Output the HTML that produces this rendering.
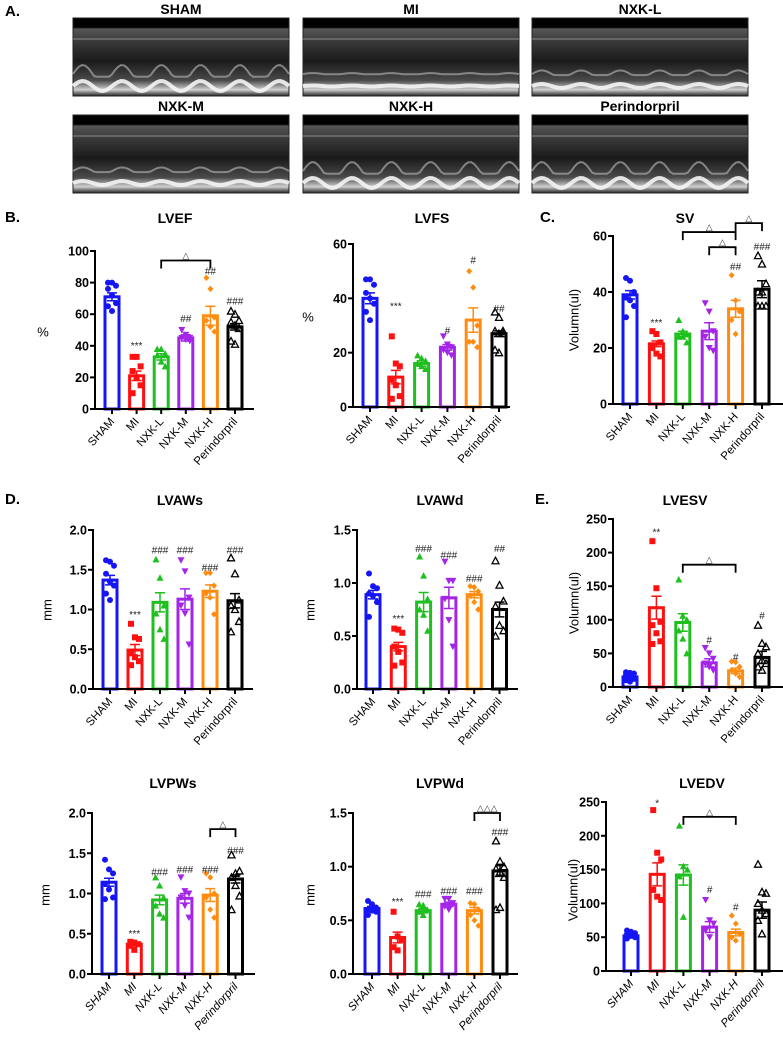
<!DOCTYPE html>
<html><head><meta charset="utf-8"><style>
html,body{margin:0;padding:0;background:#fff;}
svg{display:block;font-family:"Liberation Sans",Arial,sans-serif;}
</style></head><body>
<svg id="fig" width="783" height="1039" viewBox="0 0 783 1039" xmlns="http://www.w3.org/2000/svg">
<defs>
<linearGradient id="echoG" x1="0" y1="0" x2="0" y2="1">
<stop offset="0" stop-color="#000"/><stop offset="0.12" stop-color="#000"/><stop offset="0.14" stop-color="#555"/><stop offset="0.3" stop-color="#3a3a3a"/><stop offset="0.55" stop-color="#1a1a1a"/><stop offset="0.8" stop-color="#4a4a4a"/><stop offset="0.92" stop-color="#cfcfcf"/><stop offset="1" stop-color="#222"/>
</linearGradient>
</defs>
<g id="panelA"></g>
<g id="charts"></g>
</svg>
<script>
// ===== Data arrays =====
const categories = ["SHAM","MI","NXK-L","NXK-M","NXK-H","Perindorpril"];
const colors = ["#1515f5","#ff1010","#1fbf1f","#a424e8","#ff8c10","#000000"];

const lvefMeans = [71,21,33,45,59,52];
const lvefSem = [2.5,3,2,2,6,2];
const lvefPoints = [[80,80,78,76,72,67,65,62],[33,33,27,24,20,15,10],[38,38,35,34,30,27],[50,47,45,45,44,43],[83,76,58,56,52,49],[62,60,56,55,53,51,43,41]];
const lvefAnnot = ["","***","","##","##","###"];
const lvefAnnotY = [0,40,0,57,87,68];
const lvefTicks = [0,20,40,60,80,100];

const lvfsMeans = [40,11,16,22,32,27];
const lvfsSem = [2,2.5,1,1,4.5,1];
const lvfsPoints = [[47,47,45,42,40,38,35,32],[26,16,15,10,8,4,3],[19,18,17,16,15,14],[26,23,22,21,20,19],[50,44,30,24,24,22],[35,33,28,28,27,27,21,20]];
const lvfsAnnot = ["","***","","#","#","##"];
const lvfsAnnotY = [0,37,0,28,54,36];
const lvfsTicks = [0,20,40,60];

const svMeans = [39,21.5,25,26,34,41];
const svSem = [1.5,1,1,3,3,3];
const svPoints = [[45,44,40,38,37,35,31],[26,25,22,20,18,17],[30,26,25,24,24,22],[36,33,26,24,20,19],[46,37,33,30,25],[53,50,43,40,40,35,35,35]];
const svAnnot = ["","***","","","##","###"];
const svAnnotY = [0,29,0,0,49,56];
const svTicks = [0,20,40,60];

const lvawsMeans = [1.37,0.49,1.09,1.13,1.23,1.11];
const lvawsSem = [0.06,0.07,0.12,0.13,0.08,0.09];
const lvawsPoints = [[1.62,1.6,1.55,1.45,1.35,1.3,1.2,1.12],[0.82,0.65,0.63,0.45,0.4,0.35,0.3],[1.63,1.4,1.05,0.95,0.75,0.63],[1.62,1.48,1.15,1.05,0.95,0.56],[1.46,1.46,1.3,1.2,1.15,0.94],[1.65,1.45,1.12,1.05,1.0,0.85,0.72]];
const lvawsAnnot = ["","***","###","###","###","###"];
const lvawsAnnotY = [0,0.93,1.74,1.74,1.52,1.74];
const mm2Ticks = [0,0.5,1.0,1.5,2.0];

const lvawdMeans = [0.89,0.40,0.82,0.86,0.89,0.75];
const lvawdSem = [0.04,0.04,0.09,0.1,0.03,0.07];
const lvawdPoints = [[1.09,0.97,0.95,0.9,0.88,0.82,0.68],[0.57,0.56,0.53,0.4,0.35,0.25,0.22],[1.25,1.07,0.85,0.75,0.7,0.55],[1.2,1.02,1.02,0.85,0.65,0.4],[0.97,0.96,0.92,0.88,0.82,0.75],[1.21,0.98,0.83,0.78,0.6,0.55,0.5]];
const lvawdAnnot = ["","***","###","###","###","##"];
const lvawdAnnotY = [0,0.66,1.32,1.26,1.04,1.32];
const mm15Ticks = [0,0.5,1.0,1.5];

const lvesvMeans = [15,118,96,36,24,44];
const lvesvSem = [2,17,13,6,4,9];
const lvesvPoints = [[22,21,20,18,15,12,10,8],[217,147,97,92,80,68,64],[160,106,100,84,72,50],[58,50,42,35,30,25],[38,37,30,25,20,15],[92,65,60,50,40,35,30,25]];
const lvesvAnnot = ["","**","","#","#","#"];
const lvesvAnnotY = [0,230,0,69,44,106];
const volTicks = [0,50,100,150,200,250];

const lvpwsMeans = [1.14,0.37,0.92,0.94,0.98,1.18];
const lvpwsSem = [0.05,0.02,0.06,0.06,0.08,0.05];
const lvpwsPoints = [[1.42,1.3,1.25,1.12,1.05,0.95,0.93],[0.4,0.39,0.37,0.35,0.3],[1.2,1.1,0.95,0.85,0.75,0.7],[1.2,1.03,1.0,0.95,0.85,0.7],[1.25,1.2,1.0,0.95,0.8,0.7],[1.48,1.25,1.28,1.2,1.1,0.97,0.8]];
const lvpwsAnnot = ["","***","###","###","###","###"];
const lvpwsAnnotY = [0,0.5,1.26,1.29,1.29,1.53];

const lvpwdMeans = [0.61,0.34,0.59,0.65,0.59,0.96];
const lvpwdSem = [0.02,0.05,0.02,0.02,0.03,0.05];
const lvpwdPoints = [[0.68,0.65,0.62,0.6,0.59,0.58,0.55],[0.58,0.35,0.32,0.25,0.22],[0.65,0.64,0.6,0.58,0.55],[0.7,0.7,0.66,0.63,0.6],[0.66,0.65,0.6,0.55,0.5,0.45],[1.24,1.05,1.0,0.98,0.95,0.9,0.6,0.62]];
const lvpwdAnnot = ["","***","###","###","###","###"];
const lvpwdAnnotY = [0,0.67,0.74,0.77,0.77,1.32];

const lvedvMeans = [52,143,142,65,57,90];
const lvedvSem = [3,17,15,8,5,12];
const lvedvPoints = [[60,58,56,55,52,50,48],[238,175,165,120,110,105],[215,155,150,140,80],[105,75,70,60,50],[82,70,55,50,45],[158,117,115,100,90,85,75,55]];
const lvedvAnnot = ["","*","","#","#",""];
const lvedvAnnotY = [0,248,0,120,94,0];

// brackets: [fromIndex, toIndex, levelValue, label]
const lvefBrackets = [[2,4,94,"△"]];
const svBrackets = [[2,4,61.4,"△"],[3,4,56,"△"],[4,5,64.6,"△"]];
const lvesvBrackets = [[2,4,182,"△"]];
const lvpwsBrackets = [[4,5,1.8,"△"]];
const lvpwdBrackets = [[4,5,1.5,"△△△"]];
const lvedvBrackets = [[2,4,228,"△"]];

// ===== Rendering =====
const NS = "http://www.w3.org/2000/svg";
function mk(tag, attrs, parent){
  const e = document.createElementNS(NS, tag);
  for (const k in attrs) e.setAttribute(k, attrs[k]);
  parent.appendChild(e);
  return e;
}

// Panel A echo images
const panelA = document.getElementById('panelA');
const echoTitles = ["SHAM","MI","NXK-L","NXK-M","NXK-H","Perindorpril"];
const echoX = [73,303,532];
const echoY = [18,115];
echoTitles.forEach((t,i)=>{
  const x = echoX[i%3], y = echoY[Math.floor(i/3)], w = 216, h = 78;
  const g = mk('g',{},panelA);
  
  
  mk('rect',{x:x,y:y,width:w,height:h,fill:'url(#echoG)',stroke:'#222','stroke-width':1},g);
  // wall motion waves
  const amp = (t==="MI")?0.5:(t==="NXK-L"||t==="NXK-M")?2:5;
  let d1="", d2="";
  for(let k=0;k<=w;k+=3){
    const ph = Math.sin(k/w*2*Math.PI*5.5);
    d1 += (k?"L":"M")+(x+k)+","+(y+h-10-amp*ph);
    d2 += (k?"L":"M")+(x+k)+","+(y+h-22-amp*1.8*Math.max(ph,-0.3));
  }
  const p1 = mk('path',{d:d1,stroke:'#f4f4f4','stroke-width':4,fill:'none',opacity:0.9},g);
  const p2 = mk('path',{d:d2,stroke:'#9a9a9a','stroke-width':2,fill:'none',opacity:0.8},g);
  mk('line',{x1:x,y1:y+h*0.27,x2:x+w,y2:y+h*0.27,stroke:'#888','stroke-width':1.5,opacity:0.7},g);
  const tt = mk('text',{x:x+w/2,y:y-4,'text-anchor':'middle','font-size':14,'font-weight':'bold'},panelA);
  tt.textContent = t;
  
  
});

const chartsG = document.getElementById('charts');
// panel letters
[["A.",5,16],["B.",5,222],["C.",540,222],["D.",5,504],["E.",535,504]].forEach(p=>{
  const t = mk('text',{x:p[1],y:p[2],'font-size':15,'font-weight':'bold'},chartsG);
  t.textContent = p[0];
  
  
});

function marker(g, shape, cx, cy, col){
  let e;
  if(shape==='circle') e = mk('circle',{cx:cx,cy:cy,r:3,fill:col},g);
  else if(shape==='square') e = mk('rect',{x:cx-3,y:cy-3,width:6,height:6,fill:col},g);
  else if(shape==='up') e = mk('polygon',{points:`${cx},${cy-3.5} ${cx+3.5},${cy+3} ${cx-3.5},${cy+3}`,fill:col},g);
  else if(shape==='down') e = mk('polygon',{points:`${cx},${cy+3.5} ${cx+3.5},${cy-3} ${cx-3.5},${cy-3}`,fill:col},g);
  else if(shape==='diamond') e = mk('polygon',{points:`${cx},${cy-3.2} ${cx+3},${cy} ${cx},${cy+3.2} ${cx-3},${cy}`,fill:col},g);
  else e = mk('polygon',{points:`${cx},${cy-3.5} ${cx+3.5},${cy+3} ${cx-3.5},${cy+3}`,fill:'none',stroke:col,'stroke-width':1.3},g);
  
  
}
const shapes = ['circle','square','up','down','diamond','open'];

function drawChart(c){
  const g = mk('g',{},chartsG);
  
  
  const yMax = c.ticks[c.ticks.length-1];
  const ys = v => c.y0 - (v/yMax)*(c.y0 - c.yTop);
  const xs = i => c.cx0 + i*c.step;
  // title
  const ti = mk('text',{x:c.tx,y:c.ty+5,'text-anchor':'middle','font-size':14,'font-weight':'bold'},g);
  ti.textContent = c.title;
  
  
  // y label
  const yl = mk('text',{x:c.lx,y:c.ly,'text-anchor':'middle','font-size':13},g);
  if(c.rot) yl.setAttribute('transform',`rotate(-90 ${c.lx} ${c.ly})`);
  yl.setAttribute('dominant-baseline','middle');
  yl.textContent = c.ylabel;
  
  
  // bars
  c.means.forEach((m,i)=>{
    const col = colors[i], cx = xs(i), bw = 14;
    const b = mk('rect',{x:cx-bw/2,y:ys(m),width:bw,height:c.y0-ys(m),fill:'#fff',stroke:col,'stroke-width':3},g);
    
    
    const hi = ys(m + c.sem[i]), lo = ys(m - c.sem[i]);
    const eb = mk('path',{d:`M${cx},${hi}L${cx},${lo}M${cx-5},${hi}L${cx+5},${hi}M${cx-5},${lo}L${cx+5},${lo}`,stroke:col,'stroke-width':1.5,fill:'none'},g);
    
    
    const pts = c.points[i], n = pts.length;
    pts.forEach((v,k)=>{
      const off = ((k%3)-1)*4;
      marker(g, shapes[i], cx+off, ys(v), col);
    });
    if(c.annot[i]){
      const a = mk('text',{x:cx,y:ys(c.annotY[i])+3,'text-anchor':'middle','font-size':10,fill:'#222'},g);
      a.textContent = c.annot[i];
      
      
    }
  });
  // axes
  const ax = mk('path',{d:`M${c.ax},${c.yTop-1}L${c.ax},${c.y0}L${c.xEnd},${c.y0}`,stroke:'#000','stroke-width':2,fill:'none'},g);
  
  
  c.ticks.forEach(t=>{
    mk('line',{x1:c.ax-5,y1:ys(t),x2:c.ax,y2:ys(t),stroke:'#000','stroke-width':2},g);
    const tl = mk('text',{x:c.ax-6,y:ys(t)+4.5,'text-anchor':'end','font-size':12.5,'font-weight':'bold'},g);
    tl.textContent = c.fixed ? t.toFixed(1) : String(t);
    
    
  });
  categories.forEach((cat,i)=>{
    const cx = xs(i);
    mk('line',{x1:cx,y1:c.y0,x2:cx,y2:c.y0+5,stroke:'#000','stroke-width':2},g);
    const tl = mk('text',{x:cx+3,y:c.y0+13,'text-anchor':'end','font-size':11.5,transform:`rotate(-48 ${cx+3} ${c.y0+13})`},g);
    if(c.italic) tl.setAttribute('font-style','italic');
    tl.textContent = cat;
    
    
  });
  // brackets
  c.brackets.forEach(br=>{
    const x1 = xs(br[0]), x2 = xs(br[1]), yy = ys(br[2]);
    const p = mk('path',{d:`M${x1},${yy+8}L${x1},${yy}L${x2},${yy}L${x2},${yy+8}`,stroke:'#000','stroke-width':1.8,fill:'none'},g);
    
    
    const t = mk('text',{x:(x1+x2)/2,y:yy-2,'text-anchor':'middle','font-size':9,fill:'#333'},g);
    t.textContent = br[3];
    
    
  });
}

const charts = [
 {id:'lvef',title:'LVEF',means:lvefMeans,sem:lvefSem,points:lvefPoints,annot:lvefAnnot,annotY:lvefAnnotY,ticks:lvefTicks,brackets:lvefBrackets,
  ax:95,y0:409,yTop:251,cx0:112,step:24.6,xEnd:254,tx:175,ty:218,lx:43,ly:333,ylabel:'%',rot:false},
 {id:'lvfs',title:'LVFS',means:lvfsMeans,sem:lvfsSem,points:lvfsPoints,annot:lvfsAnnot,annotY:lvfsAnnotY,ticks:lvfsTicks,brackets:[],
  ax:353,y0:407,yTop:244,cx0:370,step:25.8,xEnd:510,tx:432,ty:218,lx:308,ly:318,ylabel:'%',rot:false},
 {id:'sv',title:'SV',means:svMeans,sem:svSem,points:svPoints,annot:svAnnot,annotY:svAnnotY,ticks:svTicks,brackets:svBrackets,
  ax:613,y0:404,yTop:236,cx0:630,step:26.4,xEnd:783,tx:685,ty:218,lx:575,ly:320,ylabel:'Volumn(ul)',rot:true},
 {id:'lvaws',title:'LVAWs',means:lvawsMeans,sem:lvawsSem,points:lvawsPoints,annot:lvawsAnnot,annotY:lvawsAnnotY,ticks:mm2Ticks,brackets:[],fixed:true,
  ax:93,y0:689,yTop:530,cx0:110,step:25,xEnd:253,tx:180,ty:500,lx:48,ly:610,ylabel:'mm',rot:true},
 {id:'lvawd',title:'LVAWd',means:lvawdMeans,sem:lvawdSem,points:lvawdPoints,annot:lvawdAnnot,annotY:lvawdAnnotY,ticks:mm15Ticks,brackets:[],fixed:true,
  ax:357,y0:689,yTop:530,cx0:373,step:25.3,xEnd:518,tx:440,ty:500,lx:311,ly:610,ylabel:'mm',rot:true},
 {id:'lvesv',title:'LVESV',means:lvesvMeans,sem:lvesvSem,points:lvesvPoints,annot:lvesvAnnot,annotY:lvesvAnnotY,ticks:volTicks,brackets:lvesvBrackets,
  ax:613,y0:687,yTop:519,cx0:630,step:26.4,xEnd:783,tx:685,ty:500,lx:575,ly:603,ylabel:'Volumn(ul)',rot:true},
 {id:'lvpws',title:'LVPWs',means:lvpwsMeans,sem:lvpwsSem,points:lvpwsPoints,annot:lvpwsAnnot,annotY:lvpwsAnnotY,ticks:mm2Ticks,brackets:lvpwsBrackets,fixed:true,italic:true,
  ax:92,y0:974,yTop:813,cx0:109,step:25.3,xEnd:255,tx:173,ty:783,lx:46,ly:895,ylabel:'mm',rot:true},
 {id:'lvpwd',title:'LVPWd',means:lvpwdMeans,sem:lvpwdSem,points:lvpwdPoints,annot:lvpwdAnnot,annotY:lvpwdAnnotY,ticks:mm15Ticks,brackets:lvpwdBrackets,fixed:true,italic:true,
  ax:353,y0:974,yTop:813,cx0:372,step:25.6,xEnd:518,tx:440,ty:783,lx:311,ly:895,ylabel:'mm',rot:true},
 {id:'lvedv',title:'LVEDV',means:lvedvMeans,sem:lvedvSem,points:lvedvPoints,annot:lvedvAnnot,annotY:lvedvAnnotY,ticks:volTicks,brackets:lvedvBrackets,italic:true,
  ax:606,y0:971,yTop:802,cx0:631,step:26.2,xEnd:783,tx:702,ty:783,lx:574,ly:890,ylabel:'Volumn(ul)',rot:true}
];
charts.forEach(drawChart);
</script>
</body></html>
